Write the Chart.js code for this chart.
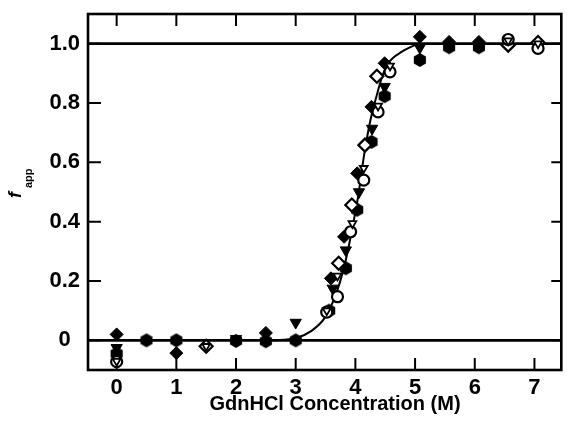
<!DOCTYPE html>
<html>
<head>
<meta charset="utf-8">
<script src="https://cdn.jsdelivr.net/npm/chart.js@4/dist/chart.umd.min.js"></script>
<style>
  html, body { margin: 0; padding: 0; background: #fff; }
  #wrap { width: 570px; height: 430px; }
</style>
</head>
<body>
<div id="wrap"><canvas id="c" width="570" height="430"></canvas></div>
<script>
// Tick positions
const xTicks = [0, 1, 2, 3, 4, 5, 6, 7];
const yTicks = [0, 0.2, 0.4, 0.6, 0.8, 1.0];

// Filled diamonds
const filledDiamondX = [0, 1, 2.5, 3.59, 3.81, 4.03, 4.27, 4.49, 5.08, 5.57, 6.07];
const filledDiamondY = [0.02, -0.043, 0.025, 0.209, 0.349, 0.563, 0.787, 0.934, 1.023, 1.006, 1.006];

// Open diamonds
const openDiamondX = [1.5, 3.72, 3.94, 4.16, 4.36, 6.56, 7.06];
const openDiamondY = [-0.02, 0.26, 0.456, 0.658, 0.89, 0.995, 1.004];

// Filled hexagons
const filledHexX = [0, 0.5, 1, 2, 2.5, 3.0, 3.56, 3.84, 4.03, 4.27, 4.49, 5.08, 5.57, 6.07];
const filledHexY = [-0.045, 0.0, 0.0, -0.002, -0.003, 0.0, 0.10, 0.243, 0.44, 0.669, 0.823, 0.945, 0.988, 0.988];

// Open circles
const openCircleX = [0, 3.52, 3.70, 3.92, 4.14, 4.38, 4.58, 6.56, 7.06];
const openCircleY = [-0.072, 0.095, 0.147, 0.366, 0.54, 0.77, 0.905, 1.014, 0.984];

// Filled inverted triangles
const filledTriX = [0, 2, 3.0, 3.62, 3.84, 4.06, 4.28, 4.49, 5.08];
const filledTriY = [-0.025, 0.005, 0.06, 0.175, 0.304, 0.50, 0.714, 0.855, 0.987];

// Open inverted triangles
const openTriX = [0, 1.5, 3.52, 3.70, 3.95, 4.14, 4.38, 4.58, 6.56, 7.06];
const openTriY = [-0.07, -0.02, 0.10, 0.217, 0.394, 0.58, 0.79, 0.925, 1.01, 1.0];

// Transition curve
const curveX = [2.6, 3.0, 3.25, 3.5, 3.7, 3.85, 3.95, 4.05, 4.15, 4.25, 4.35, 4.45, 4.55, 4.78, 5.05];
const curveY = [0.0, 0.007, 0.03, 0.08, 0.17, 0.28, 0.38, 0.49, 0.63, 0.74, 0.82, 0.89, 0.934, 0.973, 1.0];

const FONT = '"Liberation Sans", Arial, Helvetica, sans-serif';

function pts(xs, ys) { return xs.map((x, i) => ({ x: x, y: ys[i] })); }

function hexagon(r) {
  const s = Math.ceil(2 * r + 2);
  const c = document.createElement('canvas');
  c.width = s; c.height = s;
  const g = c.getContext('2d');
  g.beginPath();
  for (let i = 0; i < 6; i++) {
    const a = -Math.PI / 2 + i * Math.PI / 3;
    const px = s / 2 + r * Math.cos(a), py = s / 2 + r * Math.sin(a);
    if (i) g.lineTo(px, py); else g.moveTo(px, py);
  }
  g.closePath();
  g.fillStyle = '#000';
  g.fill();
  return c;
}
const hexMark = hexagon(7);

// Frame, inward ticks, reference lines at 0 and 1
const framePlugin = {
  id: 'frame',
  beforeDatasetsDraw(chart) {
    const { ctx, chartArea: a, scales: { x, y } } = chart;
    ctx.save();
    ctx.strokeStyle = '#000';
    ctx.lineCap = 'butt';
    // reference lines
    ctx.lineWidth = 2.6;
    [0, 1].forEach(v => {
      const py = y.getPixelForValue(v);
      ctx.beginPath(); ctx.moveTo(a.left, py); ctx.lineTo(a.right, py); ctx.stroke();
    });
    // ticks
    ctx.lineWidth = 2;
    xTicks.forEach(v => {
      const px = x.getPixelForValue(v);
      ctx.beginPath();
      ctx.moveTo(px, a.bottom); ctx.lineTo(px, a.bottom - 12);
      ctx.moveTo(px, a.top); ctx.lineTo(px, a.top + 12);
      ctx.stroke();
    });
    yTicks.forEach(v => {
      const py = y.getPixelForValue(v);
      ctx.beginPath();
      ctx.moveTo(a.left, py); ctx.lineTo(a.left + 13, py);
      ctx.moveTo(a.right, py); ctx.lineTo(a.right - 10, py);
      ctx.stroke();
    });
    // frame
    ctx.lineWidth = 2.6;
    ctx.strokeRect(a.left, a.top, a.right - a.left, a.bottom - a.top);
    ctx.restore();
  },
  afterDraw(chart) {
    const { ctx } = chart;
    ctx.save();
    ctx.fillStyle = '#000';
    // x axis title
    ctx.font = 'bold 20px ' + FONT;
    ctx.textAlign = 'center';
    ctx.textBaseline = 'middle';
    ctx.fillText('GdnHCl Concentration (M)', 335, 404);
    // y axis title: italic f with subscript app
    ctx.translate(21, 198);
    ctx.rotate(-Math.PI / 2);
    ctx.textAlign = 'left';
    ctx.textBaseline = 'alphabetic';
    ctx.font = 'italic bold 18px ' + FONT;
    ctx.fillText('f', 0, 0);
    ctx.font = 'bold 11px ' + FONT;
    ctx.fillText('app', 10, 11);
    ctx.restore();
  }
};

const common = { showLine: false, borderColor: '#000' };

new Chart(document.getElementById('c'), {
  type: 'scatter',
  data: {
    datasets: [
      Object.assign({ label: 'open triangles', data: pts(openTriX, openTriY), pointStyle: 'triangle', rotation: 180,
        pointRadius: 4.5, backgroundColor: '#fff', borderWidth: 1.8 }, common),
      Object.assign({ label: 'open circles', data: pts(openCircleX, openCircleY), pointStyle: 'circle',
        pointRadius: 5.5, backgroundColor: '#fff', borderWidth: 2.2 }, common),
      Object.assign({ label: 'open diamonds', data: pts(openDiamondX, openDiamondY), pointStyle: 'rectRot',
        pointRadius: 6.5, backgroundColor: '#fff', borderWidth: 2.2 }, common),
      Object.assign({ label: 'filled diamonds', data: pts(filledDiamondX, filledDiamondY), pointStyle: 'rectRot',
        pointRadius: 6.5, backgroundColor: '#000', borderWidth: 1 }, common),
      Object.assign({ label: 'filled triangles', data: pts(filledTriX, filledTriY), pointStyle: 'triangle', rotation: 180,
        pointRadius: 6.5, backgroundColor: '#000', borderWidth: 1 }, common),
      Object.assign({ label: 'filled hexagons', data: pts(filledHexX, filledHexY), pointStyle: hexMark,
        pointRadius: 7, backgroundColor: '#000', borderWidth: 0 }, common),
      { label: 'fit', data: pts(curveX, curveY), showLine: true, pointRadius: 0, borderColor: '#000',
        borderWidth: 2, cubicInterpolationMode: 'monotone', fill: false }
    ]
  },
  options: {
    responsive: false,
    animation: false,
    devicePixelRatio: 1,
    layout: { padding: { left: 0, right: 1, top: 14, bottom: 0 } },
    plugins: { legend: { display: false }, tooltip: { enabled: false } },
    scales: {
      x: {
        type: 'linear', min: -0.48, max: 7.45,
        afterBuildTicks: s => { s.ticks = xTicks.map(v => ({ value: v })); },
        afterFit: s => { s.height = 60; s.paddingLeft = 0; s.paddingRight = 0; },
        grid: { display: false, drawTicks: false },
        border: { display: false },
        ticks: { color: '#000', padding: 5, font: { family: FONT, size: 22, weight: 'bold' },
          callback: v => String(v) }
      },
      y: {
        type: 'linear', min: -0.1, max: 1.1,
        afterBuildTicks: s => { s.ticks = yTicks.map(v => ({ value: v })); },
        afterFit: s => { s.width = 88; s.paddingTop = 0; s.paddingBottom = 0; },
        grid: { display: false, drawTicks: false },
        border: { display: false },
        ticks: { color: '#000', padding: 8, crossAlign: 'center', font: { family: FONT, size: 22, weight: 'bold' },
          callback: v => (v === 0 ? '0' : v.toFixed(1)) }
      }
    }
  },
  plugins: [framePlugin]
});
</script>
</body>
</html>
